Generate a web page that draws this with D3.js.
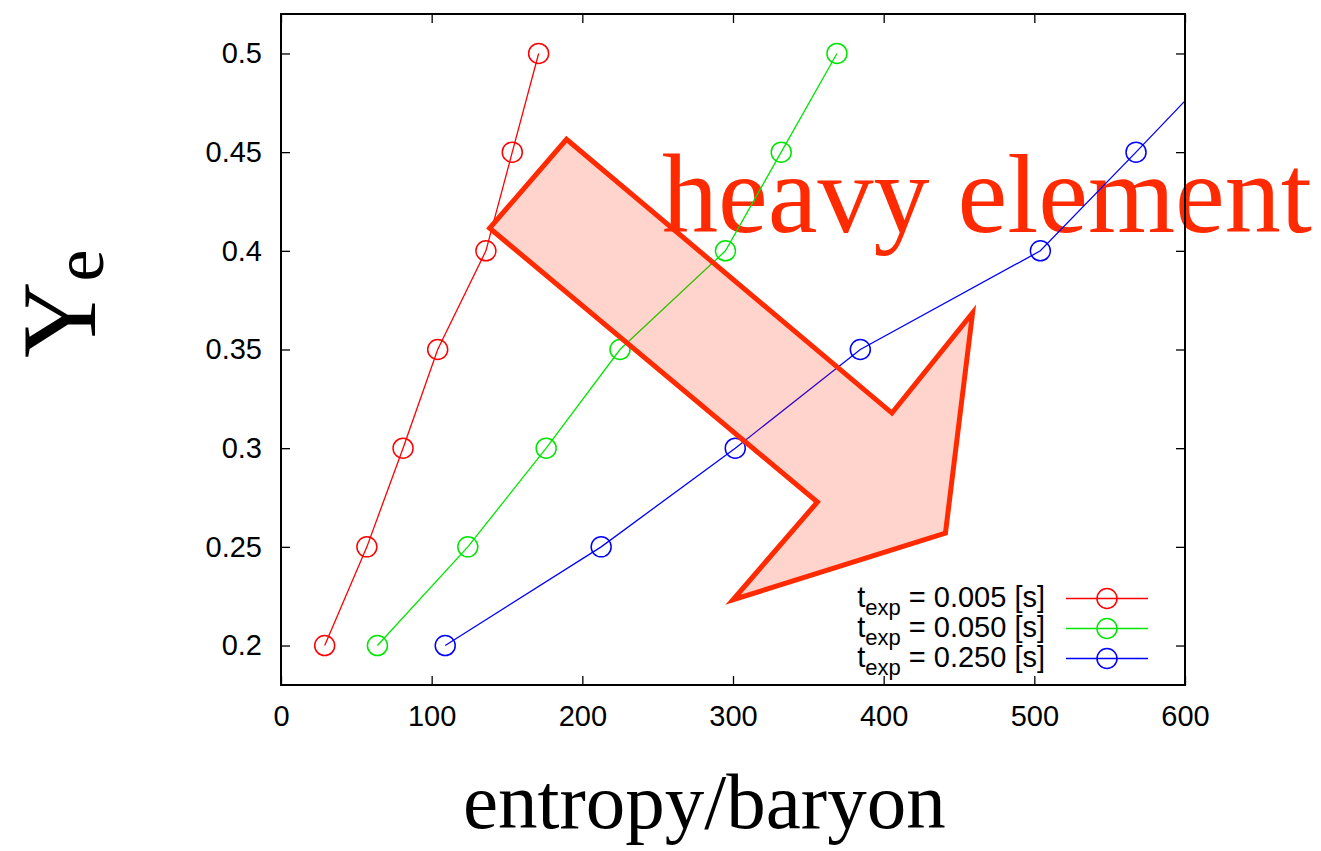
<!DOCTYPE html>
<html>
<head>
<meta charset="utf-8">
<script src="https://cdn.jsdelivr.net/npm/d3@7"></script>
<style>
  html, body { margin: 0; padding: 0; background: #fff; }
  svg { display: block; }
</style>
</head>
<body>
<svg id="chart" width="1321" height="851"></svg>
<script>
// Ye versus entropy per baryon for three expansion timescales
const yeValues = [0.20, 0.25, 0.30, 0.35, 0.40, 0.45, 0.50];
const entropyShort = [29, 57, 81, 104, 136, 153.5, 171];   // t_exp = 0.005 s
const entropyMid   = [64, 124, 176, 225, 295, 332, 369];   // t_exp = 0.050 s
const entropyLong  = [109, 212.5, 301.5, 384.5, 504, 567.5, 630]; // t_exp = 0.250 s

const seriesLabels = ["= 0.005 [s]", "= 0.050 [s]", "= 0.250 [s]"];
const seriesColors = ["#ff0000", "#00e600", "#0000ff"];

const xTicks = [0, 100, 200, 300, 400, 500, 600];
const yTicks = [0.2, 0.25, 0.3, 0.35, 0.4, 0.45, 0.5];

// Annotation arrow outline, in data units (entropy, Ye), traced around the shape
const arrowEntropy = [138.5, 189.5, 405.5, 459, 441, 300, 356];
const arrowYe      = [0.4115, 0.4565, 0.3178, 0.3685, 0.2570, 0.2232, 0.2727];

const svg = d3.select("#chart");
const plotLeft = 281, plotRight = 1185, plotTop = 14, plotBottom = 685;

const x = d3.scaleLinear().domain([0, 600]).range([plotLeft, plotRight]);
const y = d3.scaleLinear().domain([0.18, 0.52]).range([plotBottom, plotTop]);

const sans = "'Liberation Sans', Arial, Helvetica, sans-serif";
const serif = "'Liberation Serif', 'Times New Roman', Times, serif";

svg.append("defs").append("clipPath").attr("id", "plotClip")
  .append("rect").attr("x", plotLeft).attr("y", plotTop)
  .attr("width", plotRight - plotLeft).attr("height", plotBottom - plotTop);

// Big red annotation text (behind the data)
svg.append("text")
  .attr("x", 662).attr("y", 232)
  .attr("font-family", serif)
  .attr("font-size", 112)
  .attr("fill", "#ff2a00")
  .text("heavy element");

// Axes with inward ticks on all four sides
function styleAxis(g) {
  g.select(".domain").remove();
  g.selectAll(".tick line").attr("stroke", "#000").attr("stroke-width", 1.3);
}
svg.append("g").attr("transform", `translate(0,${plotBottom})`)
  .call(d3.axisBottom(x).tickValues(xTicks).tickSize(-9).tickPadding(20).tickFormat(d3.format("d")))
  .call(styleAxis)
  .call(g => g.selectAll(".tick text").attr("font-family", sans).attr("font-size", 29)
    .attr("fill", "#000").attr("dy", "0.71em"));
svg.append("g").attr("transform", `translate(0,${plotTop})`)
  .call(d3.axisTop(x).tickValues(xTicks).tickSize(-9).tickFormat(""))
  .call(styleAxis);
svg.append("g").attr("transform", `translate(${plotLeft},0)`)
  .call(d3.axisLeft(y).tickValues(yTicks).tickSize(-9).tickPadding(19).tickFormat(d => String(+d.toFixed(2))))
  .call(styleAxis)
  .call(g => g.selectAll(".tick text").attr("font-family", sans).attr("font-size", 29).attr("fill", "#000"));
svg.append("g").attr("transform", `translate(${plotRight},0)`)
  .call(d3.axisRight(y).tickValues(yTicks).tickSize(-9).tickFormat(""))
  .call(styleAxis);

// Data series
const allSeries = [entropyShort, entropyMid, entropyLong];
const line = d3.line().x(d => x(d[0])).y(d => y(d[1]));
const dataLayer = svg.append("g").attr("clip-path", "url(#plotClip)");
allSeries.forEach((xs, i) => {
  const pts = xs.map((v, k) => [v, yeValues[k]]);
  dataLayer.append("path").datum(pts)
    .attr("d", line).attr("fill", "none")
    .attr("stroke", seriesColors[i]).attr("stroke-width", 1.3);
  dataLayer.selectAll(null).data(pts).enter().append("circle")
    .attr("cx", d => x(d[0])).attr("cy", d => y(d[1])).attr("r", 10)
    .attr("fill", "none").attr("stroke", seriesColors[i]).attr("stroke-width", 1.5);
});

// Arrow annotation
const arrowPts = arrowEntropy.map((v, k) => [x(v), y(arrowYe[k])]);
svg.append("path")
  .attr("d", "M" + arrowPts.map(p => p.join(",")).join("L") + "Z")
  .attr("fill", "#ff2a00").attr("fill-opacity", 0.2)
  .attr("stroke", "#ff2a00").attr("stroke-width", 5).attr("stroke-linejoin", "miter");

// Plot frame
svg.append("rect").attr("x", plotLeft).attr("y", plotTop)
  .attr("width", plotRight - plotLeft).attr("height", plotBottom - plotTop)
  .attr("fill", "none").attr("stroke", "#000").attr("stroke-width", 2);

// Legend
const legend = svg.append("g");
seriesLabels.forEach((lab, i) => {
  const base = 607 + i * 30;
  const t = legend.append("text").attr("x", 1045).attr("y", base)
    .attr("text-anchor", "end").attr("font-family", sans).attr("font-size", 29).attr("fill", "#000");
  t.append("tspan").text("t");
  t.append("tspan").attr("font-size", 22).attr("dy", 8).text("exp");
  t.append("tspan").attr("dy", -8).text(" " + lab);
  const cy = base - 8.5;
  legend.append("line").attr("x1", 1066).attr("x2", 1148).attr("y1", cy).attr("y2", cy)
    .attr("stroke", seriesColors[i]).attr("stroke-width", 1.3);
  legend.append("circle").attr("cx", 1107).attr("cy", cy).attr("r", 10)
    .attr("fill", "none").attr("stroke", seriesColors[i]).attr("stroke-width", 1.5);
});

// Axis titles
svg.append("text").attr("x", 463).attr("y", 828)
  .attr("font-family", serif).attr("font-size", 79).attr("fill", "#000")
  .text("entropy/baryon");

const yTitle = svg.append("text")
  .attr("transform", "translate(95,358) rotate(-90)")
  .attr("font-family", serif).attr("fill", "#000");
yTitle.append("tspan").attr("font-size", 106).text("Y");
yTitle.append("tspan").attr("font-size", 72).attr("dy", 8).text("e");
</script>
</body>
</html>
